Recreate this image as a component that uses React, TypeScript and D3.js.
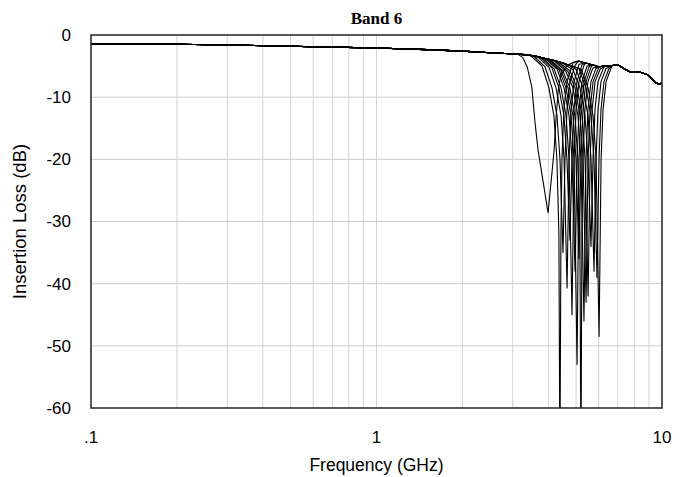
import React from "react";
import * as d3 from "d3";

const xTickValues = [0.1, 1, 10];
const xTickLabels = [".1", "1", "10"];
const yTickValues = [0, -10, -20, -30, -40, -50, -60];

// shared path (baseline, upper envelope, high-frequency tail): [GHz, dB]
const envelope: [number, number][] = [
  [0.1, -1.4], [0.13, -1.42], [0.2, -1.5], [0.3, -1.6], [0.5, -1.8], [0.7, -1.95],
  [1, -2.1], [1.5, -2.35], [2, -2.6], [2.5, -2.85], [3.0, -3.05], [3.3, -3.15],
  [3.6, -3.4], [3.9, -3.8], [4.2, -4.1], [4.5, -4.5], [4.7, -4.8], [4.9, -4.4],
  [5.1, -4.2], [5.4, -4.5], [5.7, -4.8], [6.0, -5.1], [6.3, -5.0], [6.7, -4.9],
  [7.0, -4.8], [7.3, -5.3], [7.7, -5.9], [8.0, -5.9], [8.4, -6.0], [8.9, -6.4],
  [9.2, -7.0], [9.5, -7.7], [9.8, -7.9], [10, -7.7],
];

// notch segments of each tuning state: [GHz, dB]
const c1: [number, number][] = [[3.1, -3.0], [3.25, -3.6], [3.37, -5.1], [3.50, -8.4], [3.59, -14], [3.68, -18.5], [3.80, -22.5], [3.99, -28.6], [4.10, -23], [4.19, -18.5], [4.26, -13], [4.33, -9], [4.42, -6.5], [4.60, -5.2]];
const c2: [number, number][] = [[3.447, -3.25], [3.797, -4.95], [4.017, -8.5], [4.183, -13], [4.285, -20], [4.354, -32], [4.39, -70], [4.426, -32], [4.462, -20], [4.534, -12], [4.645, -7.5], [4.836, -5.0]];
const c3: [number, number][] = [[3.533, -3.3], [3.892, -5.1], [4.118, -8.5], [4.288, -13], [4.392, -20], [4.50, -35], [4.573, -20], [4.648, -12], [4.761, -7.5], [4.957, -4.9]];
const c4: [number, number][] = [[3.651, -3.45], [4.022, -5.2], [4.255, -8.5], [4.431, -13], [4.539, -20], [4.65, -40.7], [4.726, -20], [4.803, -12], [4.920, -7.5], [5.122, -4.7]];
const c5: [number, number][] = [[3.737, -3.55], [4.117, -5.3], [4.356, -8.5], [4.535, -13], [4.646, -20], [4.76, -33], [4.838, -20], [4.916, -12], [5.037, -7.5], [5.244, -4.85]];
const c6: [number, number][] = [[3.800, -3.65], [4.186, -5.4], [4.429, -8.5], [4.612, -13], [4.724, -20], [4.84, -45], [4.919, -20], [4.999, -12], [5.121, -7.5], [5.332, -4.9]];
const c7: [number, number][] = [[3.894, -3.8], [4.290, -5.5], [4.539, -8.5], [4.726, -13], [4.841, -20], [4.96, -38], [5.041, -20], [5.123, -12], [5.248, -7.5], [5.464, -5.0]];
const c8: [number, number][] = [[3.957, -3.85], [4.359, -5.6], [4.612, -8.5], [4.802, -13], [4.920, -20], [5.04, -53], [5.122, -20], [5.205, -12], [5.333, -7.5], [5.552, -5.1]];
const c9: [number, number][] = [[4.020, -3.9], [4.428, -5.7], [4.685, -8.5], [4.878, -13], [4.998, -20], [5.12, -36], [5.203, -20], [5.288, -12], [5.417, -7.5], [5.640, -5.2]];
const c10: [number, number][] = [[4.083, -4.0], [4.497, -5.8], [4.759, -8.5], [4.955, -13], [5.076, -20], [5.158, -32], [5.20, -70], [5.242, -32], [5.285, -20], [5.371, -12], [5.502, -7.5], [5.728, -5.3]];
const c11: [number, number][] = [[4.185, -4.1], [4.610, -5.9], [4.877, -8.5], [5.078, -13], [5.203, -20], [5.33, -46], [5.417, -20], [5.505, -12], [5.640, -7.5], [5.872, -5.4]];
const c12: [number, number][] = [[4.255, -4.2], [4.688, -5.9], [4.960, -8.5], [5.164, -13], [5.291, -20], [5.42, -43], [5.508, -20], [5.598, -12], [5.735, -7.5], [5.971, -5.5]];
const c13: [number, number][] = [[4.326, -4.3], [4.766, -5.8], [5.042, -8.5], [5.250, -13], [5.378, -20], [5.51, -42], [5.600, -20], [5.691, -12], [5.830, -7.5], [6.070, -5.5]];
const c14: [number, number][] = [[4.428, -4.4], [4.878, -5.6], [5.161, -8.5], [5.374, -13], [5.505, -20], [5.64, -34], [5.732, -20], [5.825, -12], [5.968, -7.5], [6.213, -5.5]];
const c15: [number, number][] = [[4.538, -4.5], [4.999, -5.5], [5.289, -8.5], [5.507, -13], [5.642, -20], [5.78, -38], [5.874, -20], [5.970, -12], [6.116, -7.5], [6.367, -5.4]];
const c16: [number, number][] = [[4.648, -4.75], [5.120, -5.4], [5.417, -8.5], [5.641, -13], [5.779, -20], [5.92, -39], [6.016, -20], [6.114, -12], [6.264, -7.5], [6.521, -5.4]];
const c17: [number, number][] = [[4.726, -4.8], [5.207, -5.5], [5.509, -8.5], [5.736, -13], [5.876, -20], [6.02, -48.5], [6.118, -20], [6.217, -12], [6.370, -7.5], [6.632, -5.3]];

const segments = [c1, c2, c3, c4, c5, c6, c7, c8, c9, c10, c11, c12, c13, c14, c15, c16, c17];

const W = 686, H = 477;
const M = { left: 91, right: 662, top: 35, bottom: 408 };

export default function App() {
  const x = d3.scaleLog().domain([0.1, 10]).range([M.left, M.right]);
  const y = d3.scaleLinear().domain([-60, 0]).range([M.bottom, M.top]);
  const line = d3.line<[number, number]>().x(d => x(d[0])).y(d => y(d[1]));

  const curves = segments.map(seg => {
    const f0 = seg[0][0];
    const f1 = seg[seg.length - 1][0];
    return [
      ...envelope.filter(p => p[0] < f0),
      ...seg,
      ...envelope.filter(p => p[0] > f1),
    ] as [number, number][];
  });

  const minor = x.ticks().filter(t => t > 0.1 && t < 10);
  const sans = "'Liberation Sans', Arial, sans-serif";

  return (
    <svg width={W} height={H} style={{ position: "absolute", left: 0, top: 0, background: "#fff" }}>
      <defs>
        <clipPath id="plot">
          <rect x={M.left} y={M.top} width={M.right - M.left} height={M.bottom - M.top} />
        </clipPath>
      </defs>
      <rect x={0} y={0} width={W} height={H} fill="#fff" />
      {minor.map((t, i) => (
        <line key={"vx" + i} x1={x(t)} x2={x(t)} y1={M.top} y2={M.bottom} stroke="#d4d4d4" strokeWidth={1} />
      ))}
      {yTickValues.filter(v => v > -60 && v < 0).map(v => (
        <line key={"hy" + v} x1={M.left} x2={M.right} y1={y(v)} y2={y(v)} stroke="#cccccc" strokeWidth={1} />
      ))}
      <g clipPath="url(#plot)">
        {curves.map((c, i) => (
          <path key={"c" + i} d={line(c) || ""} fill="none" stroke="#000" strokeWidth={1.1} strokeLinejoin="round" />
        ))}
      </g>
      <rect x={M.left} y={M.top} width={M.right - M.left} height={M.bottom - M.top} fill="none" stroke="#222" strokeWidth={1.5} />
      {yTickValues.map(v => (
        <text key={"yt" + v} x={71} y={y(v)} dy="0.35em" textAnchor="end" fontFamily={sans} fontSize={17} fill="#000">
          {v}
        </text>
      ))}
      {xTickValues.map((v, i) => (
        <text key={"xt" + i} x={x(v)} y={443} textAnchor="middle" fontFamily={sans} fontSize={17} fill="#000">
          {xTickLabels[i]}
        </text>
      ))}
      <text x={(M.left + M.right) / 2} y={471} textAnchor="middle" fontFamily={sans} fontSize={17.5} fill="#000">
        Frequency (GHz)
      </text>
      <text transform={`translate(26, ${(M.top + M.bottom) / 2}) rotate(-90)`} textAnchor="middle" fontFamily={sans} fontSize={18.5} fill="#000">
        Insertion Loss (dB)
      </text>
      <text x={(M.left + M.right) / 2} y={24} textAnchor="middle" fontFamily="'Liberation Serif', 'Times New Roman', serif" fontWeight="bold" fontSize={17} fill="#000">
        Band 6
      </text>
    </svg>
  );
}
